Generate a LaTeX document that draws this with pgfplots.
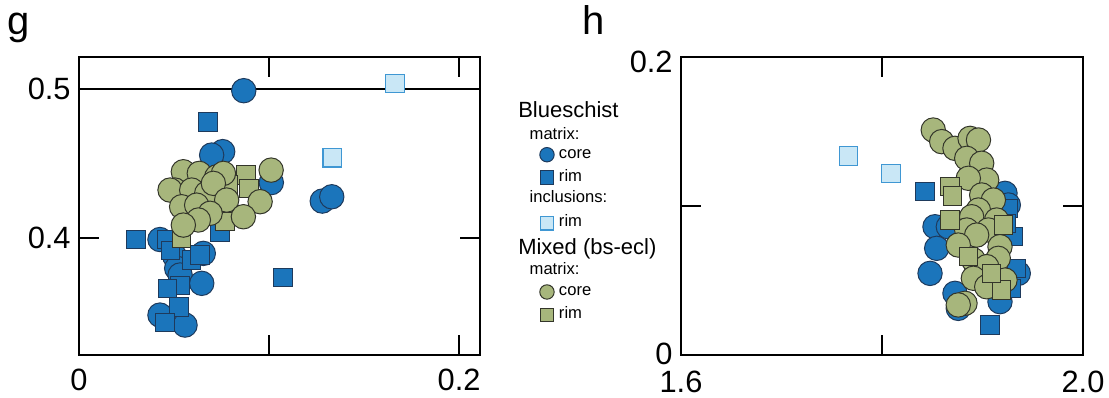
\documentclass[border=0pt]{standalone}
\usepackage{fontspec}
\setmainfont{Liberation Sans}
\usepackage{pgfplots}
\pgfplotsset{compat=1.18}

\definecolor{bsfill}{HTML}{1B75BB}
\definecolor{bsedge}{HTML}{1E3A5C}
\definecolor{mixfill}{HTML}{A7B67C}
\definecolor{mixedge}{HTML}{33352A}
\definecolor{incfill}{HTML}{C9E7F6}
\definecolor{incedge}{HTML}{3F97D3}

\newcommand\heading[1]{\hspace*{-20.35pt}\raisebox{-2.5pt}{\fontsize{11}{11}\selectfont #1}}
\newcommand\subheading[2][0pt]{\hspace*{-14.65pt}\raisebox{#1}{#2}}

\pgfplotsset{
  panel/.style={
    scale only axis, height=149pt, anchor=south west,
    axis line style={line width=1pt},
    tick align=inside, major tick length=10pt,
    every tick/.style={black, line width=1pt},
    xtick pos=both, ytick pos=both,
    tick label style={font=\fontsize{15.4}{15.4}\selectfont, inner sep=0pt},
    xticklabel style={yshift=-7pt},
    yticklabel style={xshift=-4pt},
    legend image code/.code={\draw[##1] plot coordinates {(0pt,0pt)};},
  },
  bscore/.style={only marks, mark=*, mark size=#1,
    mark options={fill=bsfill, draw=bsedge, line width=0.5pt}},
  bsrim/.style={only marks, mark=square*, mark size=#1,
    mark options={fill=bsfill, draw=bsedge, line width=0.5pt}},
  incrim/.style={only marks, mark=square*, mark size=#1,
    mark options={fill=incfill, draw=incedge, line width=0.6pt}},
  mixcore/.style={only marks, mark=*, mark size=#1,
    mark options={fill=mixfill, draw=mixedge, line width=0.5pt}},
  mixrim/.style={only marks, mark=square*, mark size=#1,
    mark options={fill=mixfill, draw=mixedge, line width=0.5pt}},
}

\begin{document}
\begin{tikzpicture}
\useasboundingbox (0pt,0pt) rectangle (554.5pt,-198.5pt);

% ---------------- panel g ----------------
\begin{axis}[panel, width=200.5pt, at={(39.5pt,-177.5pt)},
  xmin=0, xmax=0.211, ymin=0.3215, ymax=0.5215,
  xtick={0,0.1,0.2}, xticklabels={0,,0.2},
  ytick={0.4,0.5}, yticklabels={0.4,0.5},
  legend style={at={(1.1491,0.8641)}, anchor=north west, draw=none, fill=none,
    inner sep=0pt, outer sep=0pt, row sep=0pt, column sep=2.4pt,
    font=\fontsize{8.3}{8.3}\selectfont,
    nodes={inner sep=0pt, text height=7.5pt, text depth=3.94pt},
    cells={anchor=west}},
]
% Blueschist matrix cores
\addplot[bscore=6.1pt, forget plot] coordinates {
 (0.0867,0.4989) (0.0756,0.4580) (0.0698,0.4557) (0.1012,0.4372)
 (0.1280,0.4248) (0.1330,0.4277) (0.0426,0.3990) (0.0654,0.3897)
 (0.0505,0.3875) (0.0514,0.3797) (0.0532,0.3752) (0.0646,0.3696)
 (0.0426,0.3483) (0.0558,0.3416)
};
% Blueschist matrix rims
\addplot[bsrim=4.6pt, forget plot] coordinates {
 (0.0679,0.4779) (0.0300,0.3990) (0.1074,0.3734) (0.0742,0.4036)
 (0.0461,0.3990) (0.0480,0.3915) (0.0593,0.3852) (0.0637,0.3886)
 (0.0532,0.3680) (0.0465,0.3662) (0.0526,0.3537) (0.0453,0.3432)
};
% Mixed matrix rims
\addplot[mixrim=4.6pt, forget plot] coordinates {
 (0.0879,0.4423) (0.0895,0.4333) (0.0540,0.4333) (0.0786,0.4356)
 (0.0768,0.4110) (0.0540,0.4000)
};
% Mixed matrix cores
\addplot[mixcore=6.1pt, forget plot] coordinates {
 (0.1011,0.4456) (0.0549,0.4445) (0.0633,0.4434) (0.0725,0.4411)
 (0.0760,0.4434) (0.0505,0.4322) (0.0479,0.4322) (0.0593,0.4322)
 (0.0672,0.4300) (0.0707,0.4367) (0.0777,0.4255) (0.0953,0.4244)
 (0.0540,0.4210) (0.0619,0.4221) (0.0690,0.4166) (0.0865,0.4143)
 (0.0628,0.4121) (0.0549,0.4087)
};
% reference line at 0.5
\addplot[black, line width=1pt, forget plot] coordinates {(0,0.5) (0.211,0.5)};
% Blueschist inclusion rims
\addplot[incrim=4.6pt, forget plot] coordinates {
 (0.1663,0.5038) (0.1332,0.4539)
};

% legend
\addlegendimage{empty legend}
\addlegendentry{\heading{Blueschist}}
\addlegendimage{empty legend}
\addlegendentry{\subheading[-2pt]{matrix:}}
\addlegendimage{bscore=3.6pt}
\addlegendentry{core}
\addlegendimage{bsrim=3.3pt}
\addlegendentry{rim}
\addlegendimage{empty legend}
\addlegendentry{\subheading[1pt]{inclusions:}}
\addlegendimage{incrim=3.3pt}
\addlegendentry{rim}
\addlegendimage{empty legend}
\addlegendentry{\heading{Mixed (bs-ecl)}}
\addlegendimage{empty legend}
\addlegendentry{\subheading[-1pt]{matrix:}}
\addlegendimage{mixcore=3.6pt}
\addlegendentry{core}
\addlegendimage{mixrim=3.3pt}
\addlegendentry{rim}
\end{axis}

% ---------------- panel h ----------------
\begin{axis}[panel, width=201pt, at={(340.5pt,-177.5pt)},
  xmin=1.6, xmax=2.0, ymin=0, ymax=0.2,
  xtick={1.6,1.8,2.0}, xticklabels={1.6,,2.0},
  xticklabel style={yshift=-0.8pt},
  ytick={0,0.1,0.2}, yticklabels={0\rule[-1.5pt]{0pt}{0pt},,0.2\rule{0pt}{15.5pt}},
]
\addplot[bscore=6.1pt] coordinates {
 (1.8527,0.0861) (1.8544,0.0716) (1.8478,0.0548) (1.8726,0.0414)
 (1.8759,0.0313) (1.9174,0.0358) (1.9356,0.0548) (1.9224,0.1085)
 (1.9257,0.1007) (1.8660,0.0861)
};
\addplot[bsrim=4.6pt] coordinates {
 (1.8428,0.1096) (1.9075,0.0201) (1.9257,0.0984) (1.9307,0.0794)
 (1.9340,0.0582) (1.9290,0.0448) (1.9241,0.0884)
};
\addplot[mixcore=6.1pt] coordinates {
 (1.8510,0.1510) (1.8594,0.1432) (1.8726,0.1387) (1.8876,0.1454)
 (1.8960,0.1443) (1.8843,0.1320) (1.8992,0.1287) (1.9042,0.1174)
 (1.8859,0.1186) (1.8992,0.1074) (1.9108,0.1040) (1.8959,0.0973)
 (1.8892,0.0928) (1.9141,0.0906) (1.9058,0.0839) (1.8843,0.0839)
 (1.8942,0.0805) (1.8759,0.0738) (1.9174,0.0727) (1.8909,0.0638)
 (1.9157,0.0649) (1.9042,0.0593) (1.8909,0.0515) (1.9224,0.0503)
 (1.9042,0.0458) (1.8826,0.0347) (1.8759,0.0336)
};
\addplot[mixrim=4.6pt] coordinates {
 (1.8677,0.1130) (1.8703,0.1067) (1.8677,0.0906) (1.9191,0.0436)
 (1.9207,0.0872) (1.8859,0.0660) (1.9092,0.0548)
};
\addplot[incrim=4.6pt] coordinates {
 (1.7668,0.1336) (1.8090,0.1219)
};
\end{axis}

% panel letters
\node[anchor=base west, inner sep=0pt, font=\fontsize{20}{20}\selectfont] at (3.3pt,-17pt) {g};
\node[anchor=base west, inner sep=0pt, font=\fontsize{20}{20}\selectfont] at (291pt,-17pt) {h};
\end{tikzpicture}
\end{document}
